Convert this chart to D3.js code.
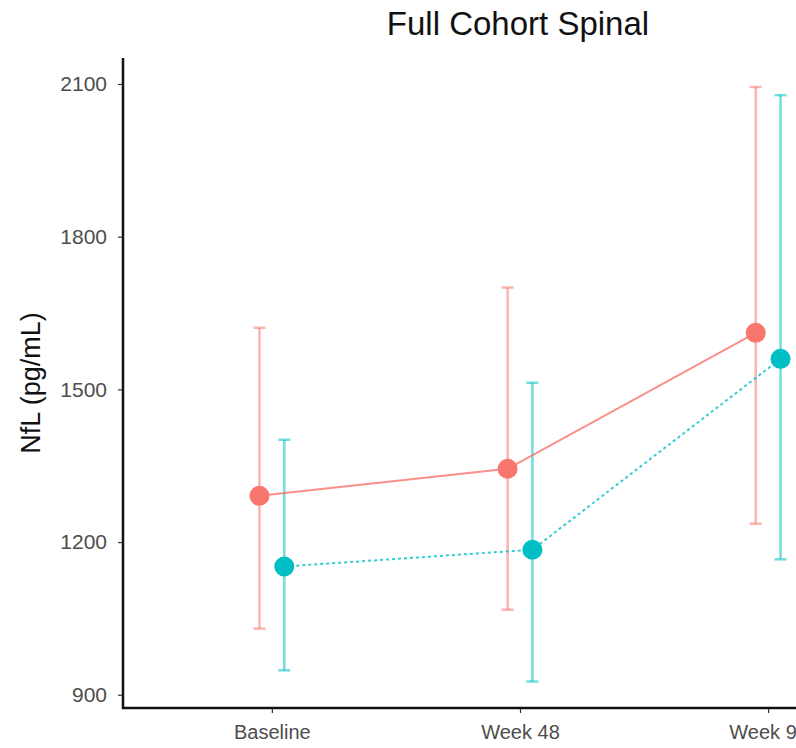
<!DOCTYPE html>
<html>
<head>
<meta charset="utf-8">
<script src="https://cdn.jsdelivr.net/npm/d3@7"></script>
<style>
body { margin: 0; background: #fff; }
svg { display: block; font-family: "Liberation Sans", Arial, sans-serif; }
</style>
</head>
<body>
<svg id="chart" width="796" height="748"></svg>
<script>
// data
var categories = ["Baseline", "Week 48", "Week 96"];
var groups = ["A", "B"];
var colors = ["#F8766D", "#00BFC4"];
var meanA = [1291, 1344, 1611];
var lowA = [1030, 1067, 1236];
var highA = [1621, 1700, 2094];
var meanB = [1152, 1185, 1560];
var lowB = [948, 926, 1166];
var highB = [1401, 1513, 2078];
var yTicks = [900, 1200, 1500, 1800, 2100];

var series = [
  {name: groups[0], color: colors[0], dash: null, mean: meanA, low: lowA, high: highA, dodge: -0.05},
  {name: groups[1], color: colors[1], dash: "3,3", mean: meanB, low: lowB, high: highB, dodge: 0.05}
];

var svg = d3.select("#chart");

var margins = {left: 123, top: 58, bottom: 708, right: 917};

var x = d3.scaleLinear().domain([0.4, 3.6]).range([margins.left, margins.right]);
var y = d3.scaleLinear().domain([874, 2151]).range([margins.bottom, margins.top]);

// title
svg.append("text")
  .attr("x", (margins.left + margins.right) / 2 - 2)
  .attr("y", 35)
  .attr("text-anchor", "middle")
  .style("font-size", "33px")
  .style("fill", "#111")
  .text("Full Cohort Spinal");

// y axis label
svg.append("text")
  .attr("transform", "translate(40," + 383 + ") rotate(-90)")
  .attr("text-anchor", "middle")
  .style("font-size", "27px")
  .style("fill", "#111")
  .text("NfL (pg/mL)");

// axes
var yAxis = d3.axisLeft(y).tickValues(yTicks).tickFormat(d3.format("d")).tickSize(5).tickPadding(11);
var gy = svg.append("g").attr("transform", "translate(" + margins.left + ",0)").call(yAxis);
gy.select(".domain").remove();
gy.selectAll(".tick line").attr("stroke", "#333").attr("stroke-width", 1.2);
gy.selectAll(".tick text").style("font-size", "21px").style("fill", "#4d4d4d").style("font-family", "Liberation Sans, Arial, sans-serif");

var xAxis = d3.axisBottom(x).tickValues([1, 2, 3]).tickFormat(function(d){ return categories[d - 1]; }).tickSize(5).tickPadding(12);
var gx = svg.append("g").attr("transform", "translate(0," + margins.bottom + ")").call(xAxis);
gx.select(".domain").remove();
gx.selectAll(".tick line").attr("stroke", "#333").attr("stroke-width", 1.2);
gx.selectAll(".tick text").style("font-size", "20px").style("fill", "#4d4d4d").style("font-family", "Liberation Sans, Arial, sans-serif");

svg.append("line")
  .attr("x1", margins.left).attr("x2", margins.left)
  .attr("y1", margins.top).attr("y2", margins.bottom + 1)
  .attr("stroke", "#111").attr("stroke-width", 2.5);
svg.append("line")
  .attr("x1", margins.left - 1).attr("x2", 796)
  .attr("y1", margins.bottom).attr("y2", margins.bottom)
  .attr("stroke", "#111").attr("stroke-width", 2.5);

// error bars
series.forEach(function(s){
  var g = svg.append("g").attr("stroke", s.color).attr("stroke-opacity", 0.55).attr("stroke-width", 2.5);
  s.mean.forEach(function(m, i){
    var cx = x(i + 1 + s.dodge);
    g.append("line").attr("x1", cx).attr("x2", cx).attr("y1", y(s.low[i])).attr("y2", y(s.high[i]));
    g.append("line").attr("x1", cx - 6).attr("x2", cx + 6).attr("y1", y(s.low[i])).attr("y2", y(s.low[i]));
    g.append("line").attr("x1", cx - 6).attr("x2", cx + 6).attr("y1", y(s.high[i])).attr("y2", y(s.high[i]));
  });
});

// lines
var line = d3.line()
  .x(function(d, i){ return x(i + 1 + d.dodge); })
  .y(function(d){ return y(d.v); });

series.forEach(function(s){
  var pts = s.mean.map(function(v){ return {v: v, dodge: s.dodge}; });
  svg.append("path")
    .attr("d", line(pts))
    .attr("fill", "none")
    .attr("stroke", s.color)
    .attr("stroke-opacity", 0.8)
    .attr("stroke-width", 2)
    .attr("stroke-dasharray", s.dash);
});

// points
series.forEach(function(s){
  svg.append("g").selectAll("circle")
    .data(s.mean)
    .enter()
    .append("circle")
    .attr("cx", function(d, i){ return x(i + 1 + s.dodge); })
    .attr("cy", function(d){ return y(d); })
    .attr("r", 10)
    .attr("fill", s.color);
});
</script>
</body>
</html>
